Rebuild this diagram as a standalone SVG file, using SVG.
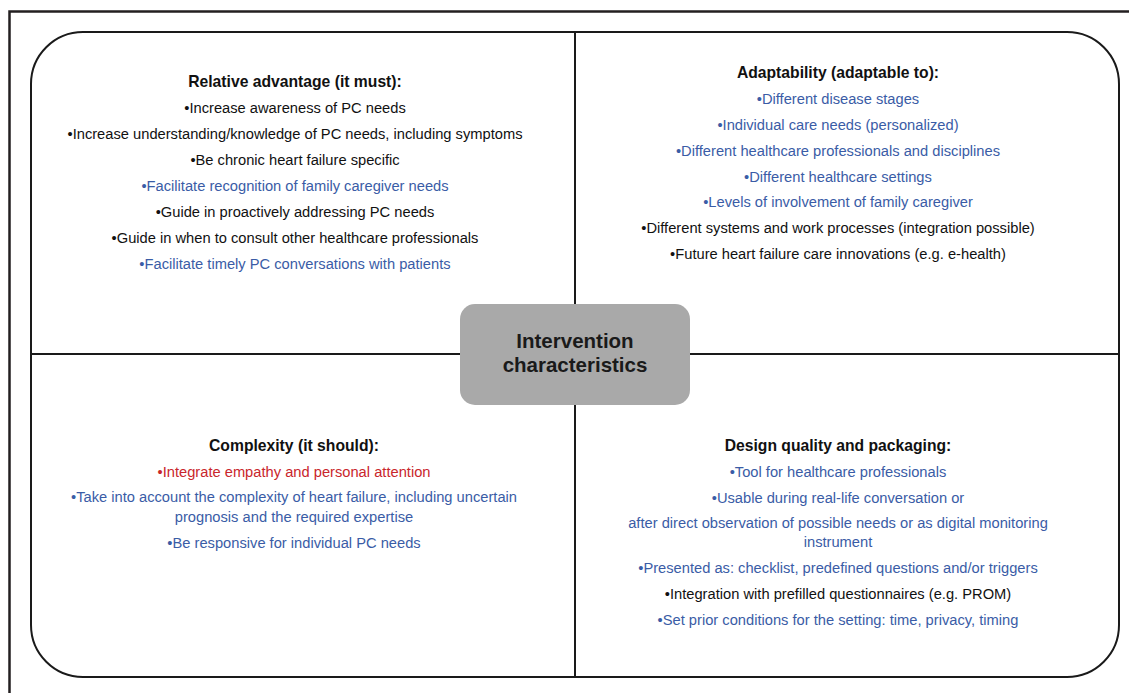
<svg xmlns="http://www.w3.org/2000/svg" width="1129" height="693" viewBox="0 0 1129 693">
<style>
text{font-family:"Liberation Sans",Arial,sans-serif;font-size:14.7px;text-anchor:middle;fill:#111}
.t{font-weight:bold;font-size:15.7px}
.b{fill:#3a5ca6}
.r{fill:#c9262c}
.c{font-weight:bold;font-size:20.5px;fill:#1a1a1a}
.ln{stroke:#1a1a1a;stroke-width:2;fill:none}
</style>
<rect width="1129" height="693" fill="#fff"/>
<path d="M9.5,693 V11.5 H1129" fill="none" stroke="#231f20" stroke-width="2.5"/>
<rect x="31" y="32" width="1088" height="645" rx="52" ry="52" fill="none" stroke="#1a1a1a" stroke-width="2"/>
<g id="connectors">
<line class="ln" x1="575" y1="32" x2="575" y2="677"/>
<line class="ln" x1="31" y1="354" x2="1119" y2="354"/>
</g>
<g id="relative-advantage">
<text class="t" x="295" y="87">Relative advantage (it must):</text>
<text x="295" y="113">•Increase awareness of PC needs</text>
<text x="295" y="139">•Increase understanding/knowledge of PC needs, including symptoms</text>
<text x="295" y="165">•Be chronic heart failure specific</text>
<text class="b" x="295" y="191">•Facilitate recognition of family caregiver needs</text>
<text x="295" y="217">•Guide in proactively addressing PC needs</text>
<text x="295" y="243">•Guide in when to consult other healthcare professionals</text>
<text class="b" x="295" y="269">•Facilitate timely PC conversations with patients</text>
</g>
<g id="adaptability">
<text class="t" x="838" y="78">Adaptability (adaptable to):</text>
<text class="b" x="838" y="104">•Different disease stages</text>
<text class="b" x="838" y="130">•Individual care needs (personalized)</text>
<text class="b" x="838" y="156">•Different healthcare professionals and disciplines</text>
<text class="b" x="838" y="182">•Different healthcare settings</text>
<text class="b" x="838" y="207">•Levels of involvement of family caregiver</text>
<text x="838" y="233">•Different systems and work processes (integration possible)</text>
<text x="838" y="259">•Future heart failure care innovations (e.g. e-health)</text>
</g>
<g id="complexity">
<text class="t" x="294" y="451">Complexity (it should):</text>
<text class="r" x="294" y="477">•Integrate empathy and personal attention</text>
<text class="b" x="294" y="502">•Take into account the complexity of heart failure, including uncertain</text>
<text class="b" x="294" y="522">prognosis and the required expertise</text>
<text class="b" x="294" y="548">•Be responsive for individual PC needs</text>
</g>
<g id="design-quality">
<text class="t" x="838" y="451">Design quality and packaging:</text>
<text class="b" x="838" y="477">•Tool for healthcare professionals</text>
<text class="b" x="838" y="503">•Usable during real-life conversation or</text>
<text class="b" x="838" y="528">after direct observation of possible needs or as digital monitoring</text>
<text class="b" x="838" y="547">instrument</text>
<text class="b" x="838" y="573">•Presented as: checklist, predefined questions and/or triggers</text>
<text x="838" y="599">•Integration with prefilled questionnaires (e.g. PROM)</text>
<text class="b" x="838" y="625">•Set prior conditions for the setting: time, privacy, timing</text>
</g>
<g id="center">
<rect x="460" y="304" width="230" height="101" rx="15" ry="15" fill="#a9a9a9"/>
<text class="c" x="575" y="348">Intervention</text>
<text class="c" x="575" y="372">characteristics</text>
</g>
</svg>
